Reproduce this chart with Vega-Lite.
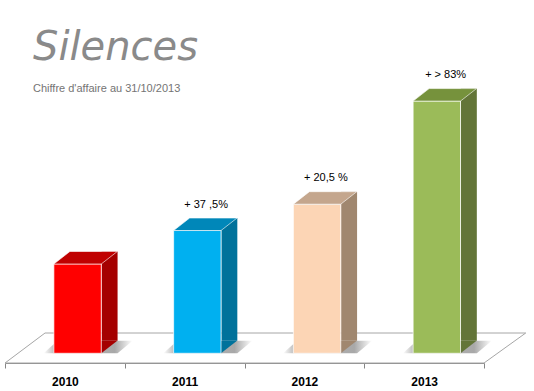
{
  "$schema": "https://vega.github.io/schema/vega-lite/v6.json",
  "width": 479,
  "height": 263,
  "autosize": {"type": "none"},
  "padding": {"left": 5, "top": 100, "right": 50, "bottom": 28},
  "background": "#ffffff",
  "config": {"view": {"stroke": null}},
  "title": {
    "text": "Silences",
    "subtitle": "\u00a0\u00a0\u00a0\u00a0Chiffre d'affaire au 31/10/2013",
    "anchor": "start",
    "frame": "group",
    "dx": 28,
    "offset": -25,
    "font": "DejaVu Sans",
    "fontSize": 40,
    "fontStyle": "italic",
    "fontWeight": 200,
    "color": "#8a8a8a",
    "subtitleFont": "Liberation Sans",
    "subtitleFontSize": 11,
    "subtitleColor": "#747474",
    "subtitlePadding": 15
  },
  "data": {
    "values": [
      {"year": "2010", "value": 100, "label": ""},
      {"year": "2011", "value": 137.5, "label": "+ 37 ,5%"},
      {"year": "2012", "value": 167, "label": "+ 20,5 %"},
      {"year": "2013", "value": 282.5, "label": "+ > 83%"}
    ]
  },
  "encoding": {
    "x": {
      "field": "year",
      "type": "nominal",
      "scale": {"paddingInner": 0, "paddingOuter": 0},
      "axis": {
        "title": null,
        "labelAngle": 0,
        "domainColor": "#868686",
        "tickColor": "#868686",
        "tickBand": "extent",
        "tickSize": 5,
        "labelFont": "Liberation Sans",
        "labelFontSize": 12,
        "labelFontWeight": "bold",
        "labelColor": "#000000",
        "labelPadding": 8
      }
    },
    "y": {
      "field": "value",
      "type": "quantitative",
      "scale": {"domain": [-10.9, 283.7], "nice": false, "zero": false},
      "axis": null
    }
  },
  "layer": [
    {
      "transform": [{"filter": "datum.year == '2011'"}],
      "mark": {"type": "point", "shape": "M-17.96,0L29.94,0L34.11,-3L-13.96,-3Z", "size": 400, "filled": true, "fill": "#ffffff", "stroke": "#a6a6a6", "strokeWidth": 1, "opacity": 1},
      "encoding": {"y": {"datum": -10.9, "type": "quantitative"}}
    },
    {
      "mark": {
        "type": "point",
        "shape": "M-3.4,0L4,0L5.5,-1.25L-2,-1.25Z",
        "size": 400,
        "filled": true,
        "opacity": 1,
        "xOffset": 12.7,
        "fill": {"gradient": "linear", "stops": [
          {"offset": 0, "color": "#ffffff"},
          {"offset": 0.12, "color": "#bdbdbd"},
          {"offset": 0.8, "color": "#a8a8a8"},
          {"offset": 1, "color": "#ffffff"}
        ]}
      },
      "encoding": {"y": {"datum": 0, "type": "quantitative"}}
    },
    {
      "mark": {"type": "bar", "width": 16, "xOffset": 44.7, "yOffset": -12.5, "y2Offset": -12.5},
      "encoding": {
        "y2": {"datum": 0},
        "fill": {"field": "year", "type": "nominal", "scale": {"domain": ["2010", "2011", "2012", "2013"], "range": ["#a50000", "#00729b", "#a0876f", "#637538"]}, "legend": null}
      }
    },
    {
      "mark": {"type": "point", "shape": "M2.37,-1.25L2.37,0L3.97,-1.25Z", "size": 400, "filled": true, "opacity": 1, "xOffset": 12.7},
      "encoding": {
        "y": {"datum": 0, "type": "quantitative"},
        "fill": {"field": "year", "type": "nominal", "scale": {"domain": ["2010", "2011", "2012", "2013"], "range": ["#a50000", "#00729b", "#a0876f", "#637538"]}, "legend": null}
      }
    },
    {
      "mark": {"type": "bar", "width": 47.4, "xOffset": 12.7, "stroke": "#ffffff", "strokeWidth": 1, "strokeOpacity": 0.7},
      "encoding": {
        "y2": {"datum": 0},
        "fill": {"field": "year", "type": "nominal", "scale": {"domain": ["2010", "2011", "2012", "2013"], "range": ["#ff0000", "#00b0f0", "#fcd5b5", "#9bbb59"]}, "legend": null}
      }
    },
    {
      "mark": {"type": "point", "shape": "M-2.37,0L2.37,0L3.97,-1.25L-0.77,-1.25Z", "size": 400, "filled": true, "opacity": 1, "xOffset": 12.7, "stroke": "#ffffff", "strokeWidth": 1, "strokeOpacity": 0.6},
      "encoding": {
        "fill": {"field": "year", "type": "nominal", "scale": {"domain": ["2010", "2011", "2012", "2013"], "range": ["#c00000", "#0087b9", "#c4a68d", "#76923c"]}, "legend": null}
      }
    },
    {
      "mark": {"type": "text", "dx": 21.5, "dy": -26, "baseline": "middle", "font": "Liberation Sans", "fontSize": 11, "color": "#000000"},
      "encoding": {"text": {"field": "label"}}
    }
  ],
  "resolve": {"scale": {"fill": "independent"}}
}
